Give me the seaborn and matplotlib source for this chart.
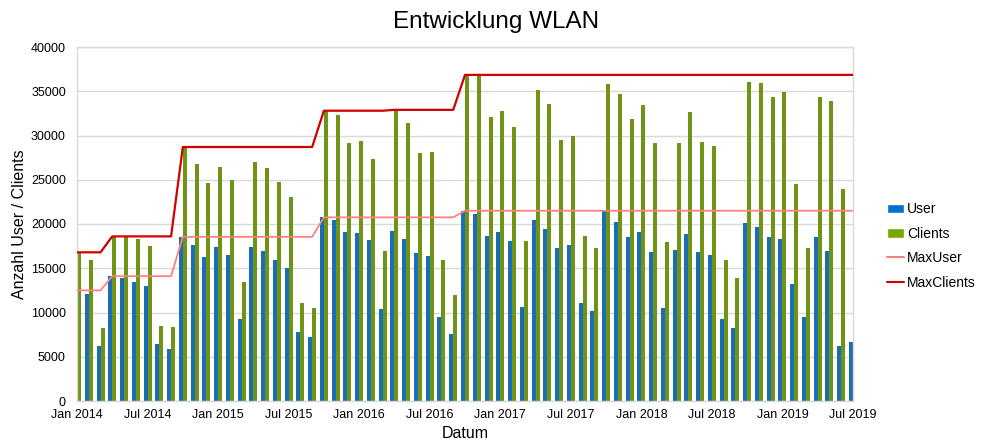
import pandas as pd
import matplotlib
matplotlib.use("Agg")
import matplotlib.pyplot as plt
import seaborn as sns
from matplotlib.patches import Patch
from matplotlib.lines import Line2D

# monthly values, Jan 2014 .. Jul 2019
months = pd.date_range("2014-01-01", periods=67, freq="MS")

users = [12500, 12100, 6200, 14100, 13850, 13500, 13000, 6450, 5900, 18550, 17600, 16300,
         17400, 16500, 9300, 17450, 16900, 15900, 15000, 7800, 7250, 20750, 20400, 19050,
         19000, 18200, 10350, 19200, 18250, 16700, 16400, 9500, 7600, 21500, 21100, 18700,
         19100, 18100, 10650, 20500, 19400, 17300, 17600, 11100, 10200, 21450, 20250, 18550,
         19150, 16850, 10500, 17050, 18850, 16850, 16450, 9300, 8200, 20100, 19650, 18500,
         18300, 13250, 9500, 18500, 16950, 6250, 6650]

clients = [16800, 15900, 8300, 18600, 18500, 18300, 17500, 8500, 8350, 28700, 26800, 24600,
           26400, 24950, 13500, 27000, 26300, 24700, 23000, 11100, 10550, 32800, 32300, 29100,
           29350, 27400, 17000, 32900, 31400, 28000, 28150, 15900, 11950, 36850, 36700, 32100,
           32800, 30950, 18100, 35150, 33600, 29450, 29950, 18600, 17300, 35800, 34700, 31850,
           33450, 29200, 17950, 29200, 32650, 29300, 28800, 15900, 13850, 36050, 35900, 34350,
           34950, 24550, 17300, 34400, 33950, 24000, 25800]

max_user = [12500] * 3 + [14100] * 6 + [18550] * 12 + [20750] * 12 + [21500] * 34
max_clients = [16800] * 3 + [18600] * 6 + [28700] * 12 + [32800] * 6 + [32900] * 6 + [36850] * 34

tick_labels = ["Jan 2014", "Jul 2014", "Jan 2015", "Jul 2015", "Jan 2016", "Jul 2016",
               "Jan 2017", "Jul 2017", "Jan 2018", "Jul 2018", "Jan 2019", "Jul 2019"]

BLUE = "#0070cf"
GREEN = "#76a800"
LIGHT_RED = "#ff8080"
DARK_RED = "#d10000"
GRID = "#d9d9d9"

sns.set_style("white")
plt.rcParams["font.family"] = ["Liberation Sans", "DejaVu Sans"]
plt.rcParams["text.color"] = "black"
plt.rcParams["axes.labelcolor"] = "black"
plt.rcParams["xtick.labelcolor"] = "black"
plt.rcParams["ytick.labelcolor"] = "black"

idx = list(range(len(months)))
df = pd.DataFrame({
    "idx": idx * 2,
    "value": users + clients,
    "series": ["User"] * len(idx) + ["Clients"] * len(idx),
})

fig = plt.figure(figsize=(9.92, 4.42), dpi=100)
ax = fig.add_axes([77 / 992, 1 - 401 / 442, (853 - 77) / 992, (401 - 47) / 442])

sns.barplot(data=df, x="idx", y="value", hue="series", native_scale=True,
            palette={"User": BLUE, "Clients": GREEN}, width=0.68,
            linewidth=0, ax=ax, legend=False, zorder=2)
sns.lineplot(x=idx, y=max_user, color=LIGHT_RED, linewidth=1.3, ax=ax, zorder=3)
sns.lineplot(x=idx, y=max_clients, color=DARK_RED, linewidth=1.6, ax=ax, zorder=4)

ax.set_xlim(0, 66)
ax.set_ylim(0, 40000)
ax.set_yticks(range(0, 40001, 5000))
ax.set_xticks(range(0, 67, 6))
ax.set_xticklabels(tick_labels)
ax.yaxis.grid(True, color=GRID, linewidth=1)
ax.xaxis.grid(False)
ax.set_axisbelow(True)
for s in ax.spines.values():
    s.set_color(GRID)
    s.set_linewidth(1)
ax.tick_params(axis="x", length=4, color=GRID, labelsize=9, pad=2)
ax.tick_params(axis="y", length=0, labelsize=9, pad=8)

ax.set_xlabel("Datum", fontsize=11.5, labelpad=3)
ax.set_ylabel("Anzahl User / Clients", fontsize=11.5, labelpad=3)
fig.suptitle("Entwicklung WLAN", fontsize=17.5, y=0.975)

handles = [
    Patch(facecolor=BLUE, label="User"),
    Patch(facecolor=GREEN, label="Clients"),
    Line2D([], [], color=LIGHT_RED, linewidth=1.5, label="MaxUser"),
    Line2D([], [], color=DARK_RED, linewidth=1.5, label="MaxClients"),
]
fig.legend(handles=handles, loc="center left", bbox_to_anchor=(887 / 992, 1 - 246 / 442),
           frameon=False, fontsize=10, handlelength=1.25, handleheight=0.7,
           handletextpad=0.2, labelspacing=0.75, borderaxespad=0, borderpad=0)

fig.savefig("out.png", dpi=100)
